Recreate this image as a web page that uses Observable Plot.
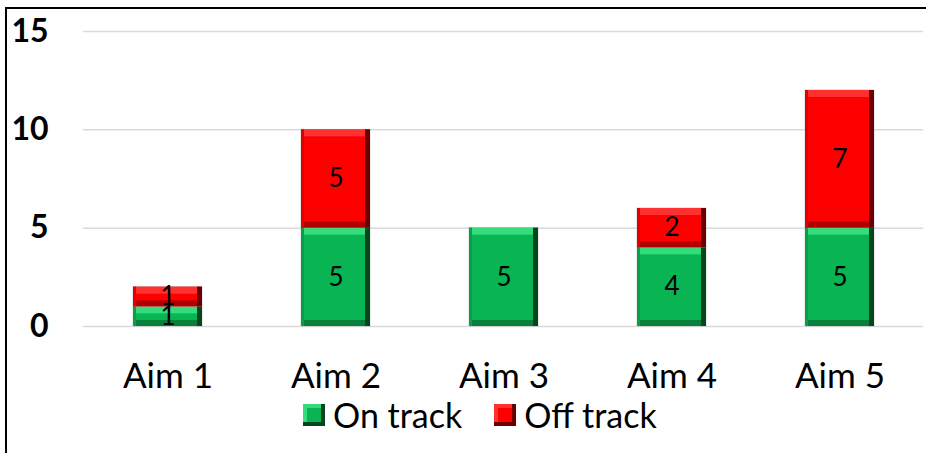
<!DOCTYPE html>
<html>
<head>
<meta charset="utf-8">
<script src="https://cdn.jsdelivr.net/npm/d3@7"></script>
<script src="https://cdn.jsdelivr.net/npm/@observablehq/plot@0.6"></script>
<style>
  html, body { margin: 0; padding: 0; background: #fff; width: 926px; height: 453px; overflow: hidden; }
  #frame { position: absolute; left: 5px; top: 7px; width: 930px; height: 460px; border-left: 2px solid #000; border-top: 2px solid #000; box-sizing: border-box; }
  #chart { position: absolute; left: 0; top: 0; }
  #legend { position: absolute; left: 303px; top: 394px; display: flex; align-items: center; font-family: Lato, sans-serif; font-size: 34px; color: #000; }
  .sw { width: 22px; height: 22px; box-sizing: border-box; margin-right: 8px; }
  .item { display: flex; align-items: center; margin-right: 32px; }
</style>
</head>
<body>
<div id="frame"></div>
<div id="chart"></div>
<div id="legend"></div>
<script>
const aims = ["Aim 1", "Aim 2", "Aim 3", "Aim 4", "Aim 5"];
const onTrack = [1, 5, 5, 4, 5];
const offTrack = [1, 5, 0, 2, 7];
const series = ["On track", "Off track"];
const yTicks = [0, 5, 10, 15];

const colors = {
  "On track":  {base: "#08b552", top: "#34dc7c", bottom: "#06803a", right: "#03461f", left: "#07a04a"},
  "Off track": {base: "#ff0000", top: "#ff3030", bottom: "#b00000", right: "#6a0000", left: "#e00000"}
};

const rows = [];
aims.forEach((aim, i) => {
  const on = onTrack[i], off = offTrack[i];
  if (on > 0) rows.push({aim, status: "On track", value: on, y0: 0, y1: on});
  if (off > 0) rows.push({aim, status: "Off track", value: off, y0: on, y1: on + off});
});

const bevelMarks = [];
for (const s of series) {
  const d = rows.filter(r => r.status === s);
  const c = colors[s];
  bevelMarks.push(
    Plot.barY(d, {x: "aim", y1: "y0", y2: "y1", fill: c.base, stroke: "#bbb", strokeOpacity: 0.6, strokeWidth: 1}),
    Plot.barY(d, {x: "aim", y1: "y1", y2: "y1", insetBottom: -7, fill: c.top}),
    Plot.barY(d, {x: "aim", y1: "y0", y2: "y0", insetTop: -6, fill: c.bottom}),
    Plot.barY(d, {x: "aim", y1: "y0", y2: "y1", insetRight: 66, fill: c.left}),
    Plot.barY(d, {x: "aim", y1: "y0", y2: "y1", insetLeft: 64, fill: c.right})
  );
}

const chart = Plot.plot({
  width: 926,
  height: 395,
  marginLeft: 83,
  marginRight: 3,
  marginTop: 31,
  marginBottom: 69,
  style: {fontFamily: "Lato, sans-serif", background: "transparent", color: "#000"},
  x: {domain: aims, paddingInner: 0.59, paddingOuter: 0.295, label: null},
  y: {domain: [0, 15], label: null},
  marks: [
    Plot.ruleY(yTicks, {stroke: "#d9d9d9", strokeWidth: 1.5}),
    Plot.axisY(yTicks, {tickSize: 0, tickPadding: 35, fontSize: 32, fontWeight: "bold", fill: "#000", label: null}),
    Plot.axisX({tickSize: 0, tickPadding: 37, fontSize: 35, fill: "#000", label: null}),
    ...bevelMarks,
    Plot.text(rows, {x: "aim", y: d => (d.y0 + d.y1) / 2, text: d => String(d.value), fontSize: 26, fill: "#000"})
  ]
});
document.getElementById("chart").appendChild(chart);

const legend = document.getElementById("legend");
for (const s of series) {
  const c = colors[s];
  const item = document.createElement("div");
  item.className = "item";
  const sw = document.createElement("div");
  sw.className = "sw";
  sw.style.background = c.base;
  sw.style.boxShadow = `inset -4px -4px 0 ${c.right}, inset 4px 4px 0 ${c.top}`;
  const label = document.createElement("span");
  label.textContent = s;
  item.appendChild(sw);
  item.appendChild(label);
  legend.appendChild(item);
}
</script>
</body>
</html>
